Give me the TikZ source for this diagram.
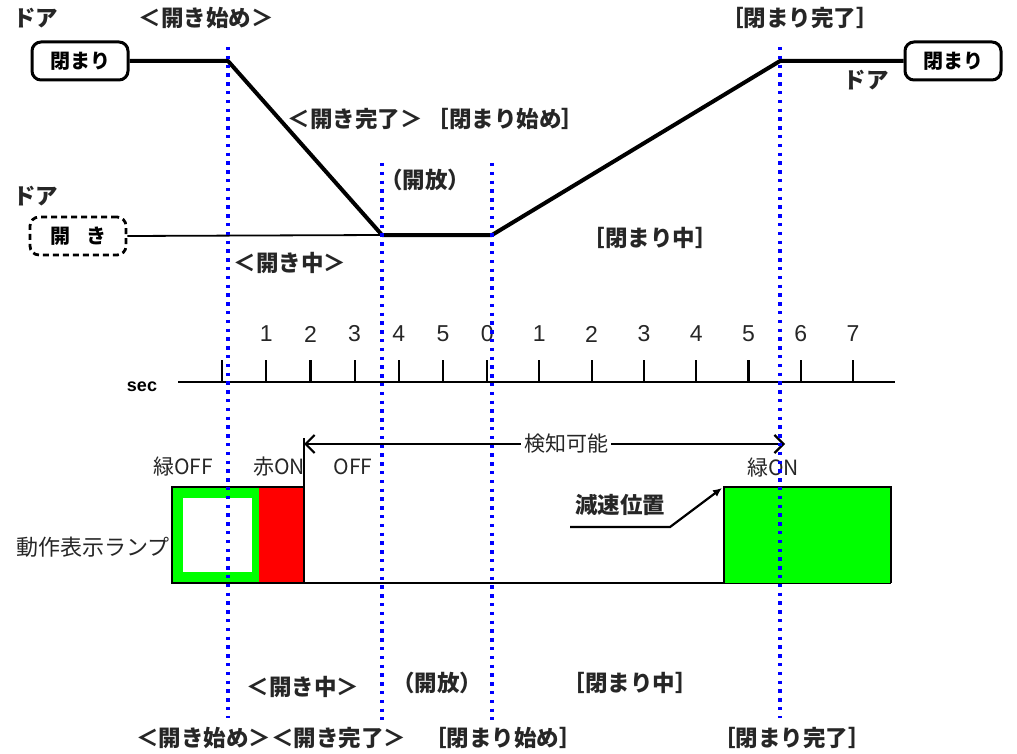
\documentclass[tikz,border=0pt]{standalone}
\usepackage{fontspec}
\newfontfamily\jp{Noto Sans CJK JP}
\newfontfamily\arial{Liberation Sans}
\usetikzlibrary{arrows.meta}
\definecolor{lampgreen}{RGB}{0,255,0}
\definecolor{lampred}{RGB}{255,0,0}
\definecolor{dotblue}{RGB}{0,0,255}
\begin{document}
\begin{tikzpicture}[x=1pt,y=-1pt,
  lbl/.style={font=\jp\bfseries\fontsize{22.5}{24}\selectfont, inner sep=0pt, text=black!85},
  lblr/.style={font=\jp\fontsize{21}{23}\selectfont, inner sep=0pt, text=black!85},
  num/.style={font=\arial\fontsize{23}{25}\selectfont, inner sep=0pt, text=black!85},
  doorbox/.style={draw, rounded corners=9pt, line width=3pt, minimum width=96pt, minimum height=38pt, inner sep=0pt, font=\jp\bfseries\fontsize{20}{22}\selectfont},
  doorline/.style={line width=4pt, line join=round},
  vline/.style={dotblue, line width=3.2pt, dash pattern=on 3.4pt off 5.4pt},
  tick/.style={line width=2.2pt}
]
\useasboundingbox (0,0) rectangle (1017,754);

% ---------- door chart ----------
\node[doorbox] (c1) at (80,61) {閉まり};
\node[doorbox] (c2) at (953,61) {閉まり};
\node[doorbox, line width=2.8pt, dash pattern=on 6pt off 4pt] (o1) at (78,236) {開\hspace{0.8em}き};
\coordinate (p1) at (228,61);
\coordinate (p2) at (382,235);
\coordinate (p3) at (492,235);
\coordinate (p4) at (780,61);
\draw[line width=1.8pt] (o1.east) -- (p2);
\draw[doorline] (c1.east) -- (p1) -- (p2) -- (p3) -- (p4) -- (c2.west);

\node[lbl, anchor=west] (d1) at (13,18) {ドア};
\node[lbl] (t1) at (206,18) {＜開き始め＞};
\node[lbl] (t2) at (800,18) {［閉まり完了］};
\node[lbl] (d2) at (866,80) {ドア};
\node[lbl] (t3) at (436,119) {＜開き完了＞\hspace{0.2em}［閉まり始め］};
\node[lbl] (t4) at (425,180) {（開放）};
\node[lbl, anchor=west] (d3) at (13,196) {ドア};
\node[lbl] (t5) at (290,263) {＜開き中＞};
\node[lbl] (t6) at (650,238) {［閉まり中］};

% ---------- time axis ----------
\coordinate (ax0) at (178,382);
\coordinate (ax1) at (895,382);
\draw[line width=2.4pt] (ax0) -- (ax1);
\node[font=\arial\bfseries\fontsize{18}{19}\selectfont, inner sep=0pt] (sec) at (142,387) {sec};
\foreach \i in {0,...,6} {
  \draw[tick] (222+44.2*\i,360) -- (222+44.2*\i,382);
}
\foreach \i/\t in {1/1,2/2,3/3,4/4,5/5,6/0} {
  \node[num] at (222+44.2*\i,334) {\t};
}
\foreach \j in {1,...,7} {
  \draw[tick] (487+52.3*\j,360) -- (487+52.3*\j,382);
  \node[num] at (487+52.3*\j,334) {\j};
}

% ---------- lamp ----------
\fill[lampgreen] (172,487) rectangle (259,583);
\fill[white] (183,498) rectangle (252,572);
\fill[lampred] (259,487) rectangle (304,583);
\draw[line width=2pt] (304,487) -- (172,487) -- (172,583) -- (891,583);
\draw[line width=2pt] (304,438) -- (304,583);
\fill[lampgreen] (724,487) rectangle (891,583);
\draw[line width=2pt] (724,583) -- (724,487) -- (891,487) -- (891,583);

\node[lblr, font=\jp\fontsize{22}{24}\selectfont, anchor=east] (lamp) at (170,547) {動作表示ランプ};
\node[lblr] (g1) at (183,467) {緑OFF};
\node[lblr] (r1) at (279,467) {赤ON};
\node[lblr] (o2) at (353,467) {OFF};
\node[lblr] (g2) at (773,468) {緑ON};
\node[lbl] (gen) at (620,505) {減速位置};
\coordinate (gs) at (570,527);
\coordinate (gm) at (670,527);
\coordinate (ge) at (722,488);
\draw[line width=2.2pt, -{Latex[length=9pt,width=8pt]}] (gs) -- (gm) -- (ge);

\coordinate (k0) at (304,444);
\coordinate (k1) at (785,444);
\node[lblr, fill=white, inner xsep=3pt] (kn) at (566,444) {検知可能};
\draw[line width=2.2pt, {Straight Barb[length=9pt,width=18pt,line width=2.2pt]}-] (k0) -- (kn.west);
\draw[line width=2.2pt, -{Straight Barb[length=9pt,width=18pt,line width=2.2pt]}] (kn.east) -- (k1);

% ---------- bottom labels ----------
\node[lbl] (b1) at (303,687) {＜開き中＞};
\node[lbl] (b2) at (437,683) {（開放）};
\node[lbl] (b3) at (630,683) {［閉まり中］};
\node[lbl, anchor=west] (b4) at (136,738) {＜開き始め＞＜開き完了＞};
\node[lbl] (b5) at (503,738) {［閉まり始め］};
\node[lbl] (b6) at (792,738) {［閉まり完了］};

% ---------- blue dotted lines ----------
\coordinate (v1a) at (228,47);  \coordinate (v1b) at (228,718);
\coordinate (v2a) at (382,163); \coordinate (v2b) at (382,720);
\coordinate (v3a) at (492,163); \coordinate (v3b) at (492,720);
\coordinate (v4a) at (780,47);  \coordinate (v4b) at (780,718);
\draw[vline] (v1a) -- (v1b);
\draw[vline] (v2a) -- (v2b);
\draw[vline] (v3a) -- (v3b);
\draw[vline] (v4a) -- (v4b);
\end{tikzpicture}
\end{document}
